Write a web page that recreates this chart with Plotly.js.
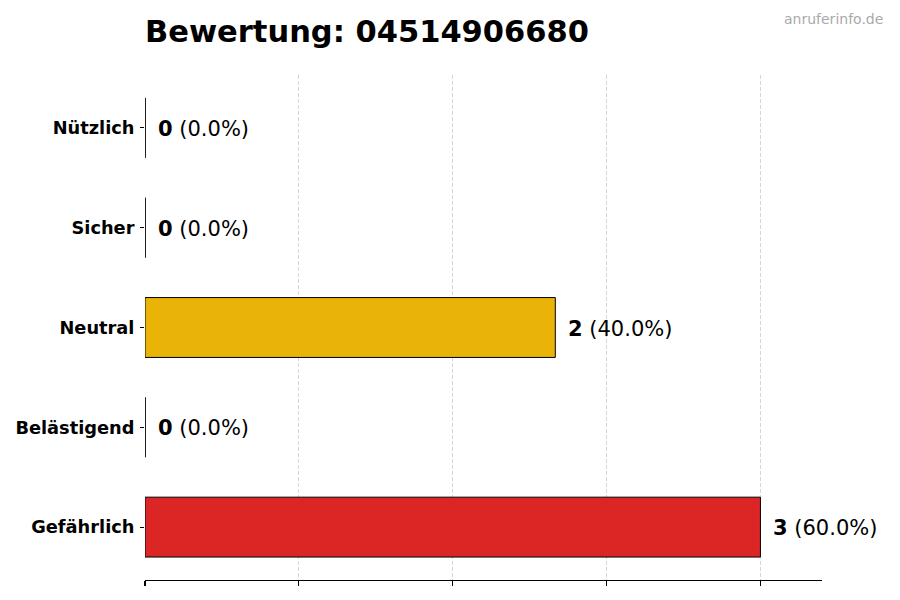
<!DOCTYPE html>
<html>
<head>
<meta charset="utf-8">
<script src="https://cdn.plot.ly/plotly-3.0.1.min.js"></script>
<style>
  html, body { margin: 0; padding: 0; background: #fff; }
  #chart { width: 900px; height: 600px; }
</style>
</head>
<body>
<div id="chart"></div>
<script>
// Data (top-to-bottom order as shown)
const categories = ['Nützlich', 'Sicher', 'Neutral', 'Belästigend', 'Gefährlich'];
const counts = [0, 0, 2, 0, 3];
const percents = [0.0, 0.0, 40.0, 0.0, 60.0];
const barColors = ['#22c55e', '#3b82f6', '#eab308', '#f97316', '#dc2626'];
const xTicks = [0, 0.75, 1.5, 2.25, 3];
const chartTitle = 'Bewertung: 04514906680';
const watermark = 'anruferinfo.de';

const n = categories.length;
const yPos = categories.map((c, i) => n - 1 - i);
const barWidth = 0.6;
const FONT = 'DejaVu Sans, sans-serif';

const trace = {
  type: 'bar',
  orientation: 'h',
  x: counts,
  y: yPos,
  width: barWidth,
  marker: { color: barColors, line: { color: '#000', width: 1 } },
  hoverinfo: 'skip'
};

// Outlines for zero-length bars (drawn at their data value)
const shapes = [];
counts.forEach((v, i) => {
  if (v === 0) {
    shapes.push({
      type: 'line', xref: 'x', yref: 'y',
      x0: v, x1: v, y0: yPos[i] - barWidth / 2, y1: yPos[i] + barWidth / 2,
      line: { color: '#000', width: 1 }, layer: 'above'
    });
  }
});

const annotations = counts.map((v, i) => ({
  x: v, y: yPos[i], xref: 'x', yref: 'y',
  xanchor: 'left', yanchor: 'middle', xshift: 11, yshift: -1,
  text: '<b>' + v + '</b> (' + percents[i].toFixed(1) + '%)',
  showarrow: false,
  font: { family: FONT, size: 21, color: '#000' }
}));
annotations.push({
  xref: 'paper', yref: 'paper', x: 1.093, y: 1.11,
  xanchor: 'right', yanchor: 'middle',
  text: watermark, showarrow: false,
  font: { family: FONT, size: 14, color: '#aaaaaa' }
});

const layout = {
  width: 900, height: 600,
  margin: { l: 145, r: 78, t: 75, b: 20 },
  paper_bgcolor: '#fff', plot_bgcolor: '#fff',
  showlegend: false,
  font: { family: FONT, color: '#000' },
  title: {
    text: '<b>' + chartTitle + '</b>',
    x: 0, xref: 'paper', xanchor: 'left',
    y: 1 - 31 / 600, yref: 'container', yanchor: 'middle',
    font: { family: FONT, size: 30.5, color: '#000' }
  },
  xaxis: {
    range: [0, 3.3],
    tickvals: xTicks,
    showticklabels: false,
    ticks: 'outside', ticklen: 5, tickwidth: 1.2, tickcolor: '#000',
    showline: true, linecolor: '#000', linewidth: 1.2,
    showgrid: true, gridcolor: '#d6d6d6', gridwidth: 1, griddash: '4px,2px',
    zeroline: false, fixedrange: true
  },
  yaxis: {
    range: [-0.53, 4.53],
    tickvals: yPos,
    ticktext: categories.map(c => '<b>' + c + '</b>'),
    ticks: 'outside', ticklen: 4, tickwidth: 1, tickcolor: '#000',
    ticklabelstandoff: 2,
    tickfont: { family: FONT, size: 17.8, color: '#000' },
    showline: false, showgrid: false, zeroline: false, fixedrange: true
  },
  shapes: shapes,
  annotations: annotations,
  bargap: 0
};

Plotly.newPlot('chart', [trace], layout, { displayModeBar: false, staticPlot: true });
</script>
</body>
</html>
